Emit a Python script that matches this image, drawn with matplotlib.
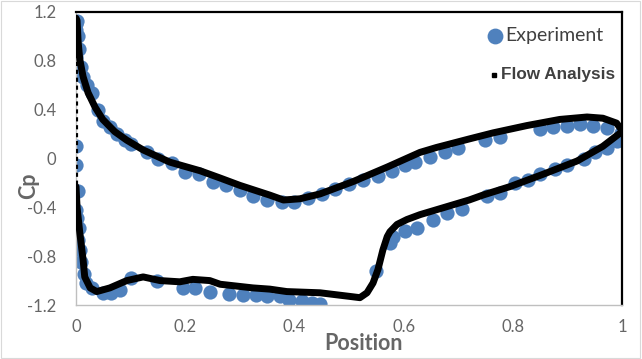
import matplotlib
matplotlib.use("Agg")
import matplotlib.pyplot as plt
from matplotlib.patches import Rectangle

# ---------------- data ----------------
exp_upper_x = [0.002, 0.0, 0.0, 0.004, 0.0, 0.006, 0.010, 0.013, 0.020, 0.030, 0.040, 0.050,
               0.062, 0.075, 0.090, 0.100, 0.130, 0.150, 0.175, 0.200, 0.225, 0.250, 0.275,
               0.300, 0.325, 0.350, 0.377, 0.400, 0.425, 0.450, 0.474, 0.500, 0.526, 0.553,
               0.579, 0.603, 0.620, 0.648, 0.676, 0.700, 0.749, 0.777, 0.850, 0.874, 0.900,
               0.923, 0.947, 0.973, 0.998]
exp_upper_cp = [1.13, 1.10, 1.05, 1.00, 0.83, 0.90, 0.75, 0.67, 0.60, 0.54, 0.40, 0.31,
                0.26, 0.20, 0.15, 0.12, 0.05, 0.00, -0.04, -0.11, -0.13, -0.19, -0.22,
                -0.26, -0.31, -0.34, -0.36, -0.36, -0.32, -0.29, -0.25, -0.21, -0.18, -0.14,
                -0.10, -0.05, -0.03, 0.01, 0.05, 0.09, 0.15, 0.18, 0.24, 0.26, 0.27,
                0.28, 0.27, 0.25, 0.21]

exp_lower_x = [0.0, 0.0, 0.003, 0.0, 0.002, 0.005, 0.003, 0.008, 0.010, 0.014, 0.018, 0.030,
               0.050, 0.065, 0.080, 0.100, 0.148, 0.196, 0.218, 0.245, 0.280, 0.306, 0.330,
               0.350, 0.374, 0.390, 0.414, 0.432, 0.447, 0.550, 0.575, 0.580, 0.603, 0.624,
               0.654, 0.680, 0.707, 0.753, 0.777, 0.804, 0.828, 0.850, 0.877, 0.900, 0.930,
               0.950, 0.973, 0.990, 1.000]
exp_lower_cp = [0.10, -0.05, -0.27, -0.42, -0.49, -0.57, -0.67, -0.75, -0.85, -0.95, -1.02, -1.06,
                -1.10, -1.10, -1.08, -0.98, -1.00, -1.06, -1.06, -1.09, -1.11, -1.12, -1.12,
                -1.13, -1.13, -1.16, -1.17, -1.18, -1.19, -0.92, -0.69, -0.64, -0.59, -0.57,
                -0.50, -0.45, -0.41, -0.31, -0.28, -0.20, -0.18, -0.13, -0.09, -0.05, 0.00,
                0.05, 0.09, 0.14, 0.17]

flow_upper_x = [0.0, 0.002, 0.004, 0.007, 0.013, 0.022, 0.035, 0.049, 0.071, 0.093, 0.123,
                0.172, 0.227, 0.264, 0.300, 0.355, 0.380, 0.410, 0.447, 0.507, 0.570, 0.630,
                0.660, 0.720, 0.764, 0.826, 0.886, 0.936, 0.965, 0.990, 1.000]
flow_upper_cp = [1.15, 1.13, 0.95, 0.81, 0.67, 0.54, 0.42, 0.32, 0.22, 0.15, 0.07,
                 -0.03, -0.10, -0.16, -0.22, -0.30, -0.34, -0.33, -0.29, -0.19, -0.07, 0.05,
                 0.09, 0.16, 0.21, 0.27, 0.32, 0.34, 0.33, 0.29, 0.23]

flow_nose_x = [0.0, 0.0]
flow_nose_cp = [0.92, -0.22]

flow_lower_x = [0.0, 0.002, 0.007, 0.013, 0.016, 0.026, 0.038, 0.062, 0.093, 0.123, 0.154,
                0.190, 0.214, 0.245, 0.264, 0.324, 0.355, 0.386, 0.447, 0.502, 0.520, 0.533,
                0.544, 0.553, 0.562, 0.570, 0.575, 0.588, 0.606, 0.630, 0.660, 0.690, 0.720,
                0.745, 0.795, 0.855, 0.918, 0.965, 1.000]
flow_lower_cp = [-0.23, -0.40, -0.61, -0.83, -0.97, -1.06, -1.09, -1.06, -1.00, -0.97, -1.00,
                 -1.01, -0.99, -1.00, -1.03, -1.06, -1.07, -1.09, -1.10, -1.13, -1.14, -1.10,
                 -1.02, -0.91, -0.75, -0.64, -0.60, -0.54, -0.50, -0.46, -0.42, -0.38, -0.34,
                 -0.30, -0.23, -0.13, -0.02, 0.10, 0.22]

x_ticks = [0, 0.2, 0.4, 0.6, 0.8, 1]
x_tick_labels = ["0", "0.2", "0.4", "0.6", "0.8", "1"]
y_ticks = [-1.2, -0.8, -0.4, 0, 0.4, 0.8, 1.2]
y_tick_labels = ["-1.2", "-0.8", "-0.4", "0", "0.4", "0.8", "1.2"]

# ---------------- figure ----------------
BLUE = "#4F81BD"
GRAY = "#666666"

fig = plt.figure(figsize=(6.42, 3.59), dpi=100)
fig.patch.set_facecolor("white")
ax = fig.add_axes([76 / 642, 1 - 305 / 359, 546 / 642, 293 / 359])

ax.scatter(exp_upper_x, exp_upper_cp, s=105, color=BLUE, zorder=2, linewidths=0)
ax.scatter(exp_lower_x, exp_lower_cp, s=105, color=BLUE, zorder=2, linewidths=0)

ax.plot(flow_upper_x, flow_upper_cp, color="black", lw=5, solid_joinstyle="round",
        solid_capstyle="round", zorder=3)
ax.plot(flow_lower_x, flow_lower_cp, color="black", lw=5, solid_joinstyle="round",
        solid_capstyle="round", zorder=3)
ax.plot(flow_nose_x, flow_nose_cp, color="black", lw=3, linestyle=(0, (1.0, 0.9)),
        zorder=3)

ax.set_xlim(0, 1)
ax.set_ylim(-1.2, 1.2)
ax.set_xticks(x_ticks)
ax.set_xticklabels(x_tick_labels)
ax.set_yticks(y_ticks)
ax.set_yticklabels(y_tick_labels)
ax.tick_params(axis="both", length=0, labelsize=12, labelcolor=GRAY)
ax.tick_params(axis="y", pad=14)
ax.tick_params(axis="x", pad=10)
for lab in ax.get_xticklabels() + ax.get_yticklabels():
    lab.set_family("Lato")

for side in ("left", "bottom"):
    ax.spines[side].set_color("#BFBFBF")
    ax.spines[side].set_linewidth(1.0)
for side in ("top", "right"):
    ax.spines[side].set_color("black")
    ax.spines[side].set_linewidth(1.6)

fig.text(364 / 642, 1 - 344 / 359, "Position", ha="center", va="center",
         fontsize=15.5, fontweight="bold", color=GRAY, family="Lato")
fig.text(29 / 642, 1 - 186 / 359, "Cp", ha="center", va="center", rotation=90,
         fontsize=15.5, fontweight="bold", color=GRAY, family="Lato")

# legend (drawn manually to reproduce its layout)
ax.scatter([(495 - 76) / 546], [1 - (36 - 12) / 293], s=130, color=BLUE, linewidths=0,
           transform=ax.transAxes, clip_on=False, zorder=4)
ax.text((505 - 76) / 546, 1 - (36 - 12) / 293, "Experiment", transform=ax.transAxes,
        ha="left", va="center", fontsize=14, color="#404040", family="Lato")
ax.plot([(494 - 76) / 546], [1 - (75 - 12) / 293], marker="s", ms=2.2, color="black",
        transform=ax.transAxes, clip_on=False, zorder=4)
ax.text((501 - 76) / 546, 1 - (75 - 12) / 293, "Flow Analysis", transform=ax.transAxes,
        ha="left", va="center", fontsize=12.3, fontweight="bold", color="#404040",
        family="Liberation Sans")

fig.add_artist(Rectangle((0.002, 0.003), 0.995, 0.994, transform=fig.transFigure,
                         fill=False, edgecolor="#D9D9D9", lw=0.8))

fig.savefig("out.png", dpi=100, facecolor="white")
